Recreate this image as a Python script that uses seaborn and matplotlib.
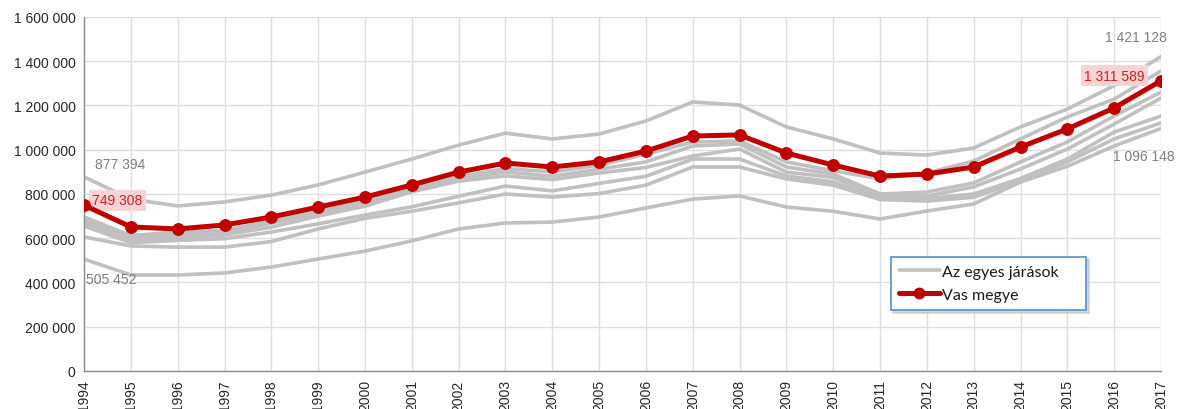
import numpy as np
import pandas as pd
import seaborn as sns
import matplotlib.pyplot as plt

# -----------------------------
# DATA
# -----------------------------

years = list(range(1994, 2018))

# Vas megye
vas = [749308, 651000, 642000, 660000, 696000, 741000, 786000, 841000,
       899000, 940000, 922000, 945000, 994000, 1062000, 1067000, 985000,
       931000, 881000, 890000, 922000, 1012000, 1094000, 1189000, 1311589]

# az egyes járások
jaras_1 = [877394, 777000, 746000, 764000, 795000, 841000, 899000, 958000,
           1021000, 1075000, 1049000, 1071000, 1130000, 1216000, 1202000, 1103000,
           1049000, 985000, 976000, 1008000, 1103000, 1184000, 1290000, 1421128]
jaras_2 = [696000, 612000, 628000, 635000, 680000, 725000, 770000, 832000,
           878000, 915000, 900000, 930000, 980000, 1035000, 1040000, 945000,
           905000, 868000, 895000, 949000, 1049000, 1148000, 1229000, 1356000]
jaras_3 = [685000, 603000, 612000, 625000, 668000, 712000, 755000, 820000,
           868000, 900000, 880000, 912000, 945000, 1017000, 1026000, 922000,
           890000, 800000, 809000, 850000, 945000, 1035000, 1153000, 1260000]
jaras_4 = [670000, 595000, 600000, 615000, 650000, 700000, 745000, 810000,
           858000, 882000, 865000, 895000, 920000, 972000, 1003000, 899000,
           875000, 790000, 791000, 832000, 913000, 1003000, 1116000, 1234000]
jaras_5 = [655000, 580000, 590000, 598000, 628000, 665000, 705000, 742000,
           790000, 836000, 814000, 848000, 880000, 958000, 958000, 881000,
           855000, 780000, 780000, 800000, 870000, 958000, 1080000, 1152000]
jaras_6 = [606000, 565000, 560000, 560000, 585000, 642000, 690000, 722000,
           760000, 800000, 786000, 802000, 840000, 922000, 922000, 868000,
           840000, 775000, 768000, 785000, 859000, 945000, 1049000, 1121000]
jaras_7 = [505452, 434000, 434000, 443000, 470000, 506000, 542000, 588000,
           642000, 669000, 673000, 696000, 737000, 777000, 791000, 741000,
           722000, 687000, 723000, 755000, 854000, 925000, 1017000, 1096148]

jarasok = [jaras_1, jaras_2, jaras_3, jaras_4, jaras_5, jaras_6, jaras_7]

gray_df = pd.DataFrame({
    "ev": years * len(jarasok),
    "ertek": np.concatenate(jarasok),
    "jaras": np.repeat(np.arange(len(jarasok)), len(years)),
})
vas_df = pd.DataFrame({"ev": years, "ertek": vas})

# -----------------------------
# PLOT
# -----------------------------

sns.set_style("white")
plt.rcParams["font.family"] = ["Liberation Sans", "DejaVu Sans"]

fig = plt.figure(figsize=(11.77, 4.10), dpi=100)
ax = fig.add_axes([0.0714, 0.0927, 0.9150, 0.8634])

sns.lineplot(data=gray_df, x="ev", y="ertek", units="jaras", estimator=None,
             color="#c0c0c0", linewidth=2.6, ax=ax, legend=False)
sns.lineplot(data=vas_df, x="ev", y="ertek", color="#c00000", linewidth=3.6,
             marker="o", markersize=8.5, markeredgecolor="#c00000", ax=ax,
             legend=False, zorder=5)

ax.set_xlim(years[0], years[-1])
ax.set_ylim(0, 1600000)
ax.set_xticks(years)
ax.set_xticklabels([str(y) for y in years], rotation=90, fontsize=10, color="#262626")
yt = np.arange(0, 1600001, 200000)
ax.set_yticks(yt)
ax.set_yticklabels([f"{v:,}".replace(",", " ") for v in yt], fontsize=10, color="#262626")
ax.set_xlabel("")
ax.set_ylabel("")

ax.grid(True, color="#dedede", linewidth=1)
for s in ["top", "right"]:
    ax.spines[s].set_visible(False)
for s in ["left", "bottom"]:
    ax.spines[s].set_color("#8c8c8c")
    ax.spines[s].set_linewidth(1)
ax.tick_params(axis="both", length=4, color="#8c8c8c", pad=2)

# -----------------------------
# LABELS
# -----------------------------

narrow = ["Liberation Sans Narrow", "Liberation Sans", "DejaVu Sans"]
pink = dict(facecolor="#fad4d4", edgecolor="none", pad=2.5)

ax.annotate("877 394", (years[0], jaras_1[0]), xytext=(11, 13), textcoords="offset pixels",
            ha="left", va="center", fontsize=10, color="#7f7f7f", family=narrow)
ax.annotate("749 308", (years[0], vas[0]), xytext=(8, 5), textcoords="offset pixels",
            ha="left", va="center", fontsize=10, color="#d02020", family=narrow, bbox=pink)
ax.annotate("505 452", (years[0], jaras_7[0]), xytext=(2, -20), textcoords="offset pixels",
            ha="left", va="center", fontsize=10, color="#7f7f7f", family=narrow)
ax.annotate("1 421 128", (years[-1], jaras_1[-1]), xytext=(6, 20), textcoords="offset pixels",
            ha="right", va="center", fontsize=10, color="#7f7f7f", family=narrow)
ax.annotate("1 311 589", (years[-1], vas[-1]), xytext=(-16, 5), textcoords="offset pixels",
            ha="right", va="center", fontsize=10, color="#d02020", family=narrow, bbox=pink)
ax.annotate("1 096 148", (years[-1], jaras_7[-1]), xytext=(14, -28), textcoords="offset pixels",
            ha="right", va="center", fontsize=10, color="#7f7f7f", family=narrow,
            annotation_clip=False)

# -----------------------------
# LEGEND
# -----------------------------

handles = [
    plt.Line2D([], [], color="#c0c0c0", linewidth=2.6),
    plt.Line2D([], [], color="#c00000", linewidth=3.6, marker="o", markersize=7.5),
]
leg = ax.legend(handles, ["Az egyes járások", "Vas megye"],
                loc="center left", bbox_to_anchor=(0.749, 0.164, 0.1815, 0.168),
                mode="expand", frameon=True, fancybox=False,
                shadow={"color": "0.75", "alpha": 0.6}, handlelength=2.6,
                handletextpad=0.1, borderpad=0.5, borderaxespad=0, labelspacing=0.55,
                prop={"family": ["Lato", "DejaVu Sans"], "size": 11.5})
leg.get_frame().set_edgecolor("#4f8fd6")
leg.get_frame().set_linewidth(1.2)
for t in leg.get_texts():
    t.set_color("#1a1a1a")

plt.savefig("out.png", dpi=100)
